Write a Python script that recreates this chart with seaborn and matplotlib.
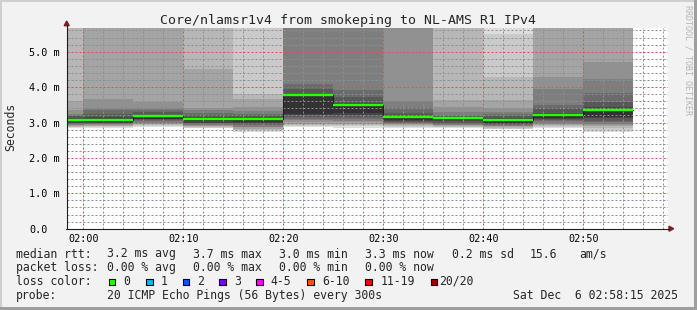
import numpy as np
import pandas as pd
import matplotlib
matplotlib.use("Agg")
import matplotlib.pyplot as plt
from matplotlib.patches import Rectangle, Polygon
from matplotlib.lines import Line2D
import seaborn as sns

# ---------------- data ----------------
# start of each 300 s interval, minutes after 02:00
interval_start = [-5, 0, 5, 10, 15, 20, 25, 30, 35, 40, 45, 50]
interval_len = 5
# 20 sorted ping rtts per interval (ms); 6.2 = beyond the top of the graph
pings = [
    [2.84, 2.86, 2.88, 2.90, 2.92, 2.94, 2.96, 2.98, 3.00, 3.03, 3.08, 3.13, 3.18, 3.22, 3.25, 3.35, 3.61, 6.2, 6.2, 6.2],
    [2.85, 2.87, 2.89, 2.91, 2.93, 2.95, 2.96, 2.98, 3.00, 3.02, 3.07, 3.15, 3.25, 3.36, 3.40, 3.67, 6.2, 6.2, 6.2, 6.2],
    [2.87, 2.90, 2.93, 2.95, 2.98, 3.00, 3.03, 3.06, 3.09, 3.11, 3.17, 3.22, 3.30, 3.36, 3.41, 3.58, 6.2, 6.2, 6.2, 6.2],
    [2.84, 2.85, 2.87, 2.89, 2.91, 2.93, 2.96, 2.98, 3.00, 3.03, 3.11, 3.15, 3.20, 3.28, 3.34, 3.41, 4.52, 6.2, 6.2, 6.2],
    [2.73, 2.78, 2.80, 2.83, 2.86, 2.88, 2.92, 2.95, 2.99, 3.02, 3.10, 3.15, 3.20, 3.25, 3.32, 3.44, 3.67, 3.81, 6.2, 6.2],
    [2.88, 2.91, 2.94, 2.97, 3.02, 3.06, 3.11, 3.16, 3.21, 3.25, 3.77, 3.80, 3.95, 4.10, 6.2, 6.2, 6.2, 6.2, 6.2, 6.2],
    [2.85, 2.89, 2.93, 2.97, 3.01, 3.05, 3.10, 3.15, 3.22, 3.28, 3.50, 3.56, 3.73, 3.92, 6.2, 6.2, 6.2, 6.2, 6.2, 6.2],
    [2.84, 2.87, 2.89, 2.92, 2.95, 2.98, 3.00, 3.02, 3.05, 3.08, 3.16, 3.20, 3.26, 3.40, 3.62, 6.2, 6.2, 6.2, 6.2, 6.2],
    [2.84, 2.86, 2.88, 2.90, 2.92, 2.94, 2.97, 3.00, 3.05, 3.07, 3.13, 3.15, 3.18, 3.22, 3.31, 3.45, 3.64, 6.2, 6.2, 6.2],
    [2.82, 2.83, 2.85, 2.87, 2.89, 2.91, 2.93, 2.95, 2.97, 3.00, 3.06, 3.12, 3.18, 3.25, 3.30, 3.40, 3.63, 4.29, 5.51, 6.2],
    [2.84, 2.87, 2.91, 2.94, 2.97, 3.00, 3.03, 3.07, 3.11, 3.13, 3.22, 3.28, 3.40, 3.49, 3.96, 4.29, 6.2, 6.2, 6.2, 6.2],
    [2.74, 2.79, 2.84, 2.89, 2.93, 2.97, 3.01, 3.05, 3.12, 3.16, 3.36, 3.44, 3.58, 3.82, 4.24, 4.72, 6.2, 6.2, 6.2, 6.2],
]
median = [3.08, 3.07, 3.17, 3.11, 3.10, 3.77, 3.50, 3.16, 3.13, 3.06, 3.22, 3.36]
loss = [0, 0, 0, 0, 0, 0, 0, 0, 0, 0, 0, 0]

x_major = [0, 10, 20, 30, 40, 50]
x_labels = ["02:00", "02:10", "02:20", "02:30", "02:40", "02:50"]
y_major = [0, 1, 2, 3, 4, 5]
y_labels = ["0.0", "1.0 m", "2.0 m", "3.0 m", "4.0 m", "5.0 m"]

loss_names = ["0", "1", "2", "3", "4-5", "6-10", "11-19", "20/20"]
loss_colors = ["#26ff00", "#00b8ff", "#0059ff", "#7e00ff", "#ff00ff", "#ff5500", "#ff0000", "#a10000"]

title = "Core/nlamsr1v4 from smokeping to NL-AMS R1 IPv4"
stats_rtt = ["3.2 ms avg", "3.7 ms max", "3.0 ms min", "3.3 ms now", "0.2 ms sd", "15.6", "am/s"]
stats_loss = ["0.00 % avg", "0.00 % max", "0.00 % min", "0.00 % now"]
probe = "20 ICMP Echo Pings (56 Bytes) every 300s"
stamp = "Sat Dec  6 02:58:15 2025"

# ---------------- style ----------------
W, H = 697, 310
sns.set_theme(style="white")
plt.rcParams["font.family"] = ["DejaVu Sans Mono", "DejaVu Sans"]
MONO = "DejaVu Sans Mono"

fig = plt.figure(figsize=(W / 100, H / 100), dpi=100, facecolor="#f2f2f2")


def fx(x):
    return x / W


def fy(y):
    return 1 - y / H


ax = fig.add_axes([fx(66.7), fy(228.7), (668 - 66.7) / W, (228.7 - 28) / H])
ax.set_facecolor("white")
ax.set_xlim(-1.66, 58.47)
ax.set_ylim(0, 5.67)
for s in ax.spines.values():
    s.set_visible(False)

# smoke
edges = interval_start + [interval_start[-1] + interval_len]
P = np.array(pings)
for k in range(1, 11):
    lo = P[:, k - 1]
    hi = P[:, 20 - k]
    g = (19 * (10 - k) + 50) / 255
    ax.fill_between(edges, np.append(lo, lo[-1]), np.append(hi, hi[-1]),
                    step="post", color=(g, g, g), lw=0, zorder=1)

# median
med_df = pd.DataFrame({"t": edges, "rtt": median + [median[-1]]})
sns.lineplot(data=med_df, x="t", y="rtt", drawstyle="steps-post", color="#202020",
             lw=0.75, ax=ax, zorder=3, legend=False)
ends = [s + interval_len for s in interval_start]
ax.hlines(median, interval_start, ends, colors=[loss_colors[l] for l in loss],
          lw=1.7, zorder=4)

# ticks and grid
ax.set_xticks(x_major)
ax.set_xticklabels(x_labels)
ax.set_xticks([t for t in range(0, 59, 2) if t % 10], minor=True)
ax.set_yticks(y_major)
ax.set_yticklabels(y_labels)
ax.set_yticks([v / 5 for v in range(1, 29) if v % 5], minor=True)
ax.set_axisbelow(False)
ax.grid(which="major", color=(0.87, 0.31, 0.31, 0.26), linestyle=(0, (2, 2)), lw=0.72, zorder=2.5)
ax.grid(which="minor", color=(0.56, 0.56, 0.56, 0.22), linestyle=(0, (2, 2)), lw=0.72, zorder=2.5)
ax.tick_params(which="major", length=2.9, width=0.72, color="#1f1f1f", direction="out",
               labelsize=7.3, labelcolor="black")
ax.tick_params(which="minor", length=1.5, width=0.72, color="#1f1f1f", direction="out")
ax.tick_params(axis="x", which="major", pad=1.0)
ax.tick_params(axis="y", which="major", pad=24.0)
for t in ax.get_yticklabels():
    t.set_ha("left")
    t.set_family(MONO)
for t in ax.get_xticklabels():
    t.set_family(MONO)
ax.set_xlabel("")
ax.set_ylabel("")

# axis lines with arrows
axc = "#1f1f1f"
arrc = "#801f1f"
fig.add_artist(Line2D([fx(66.7), fx(66.7)], [fy(228.7), fy(25)], color=axc, lw=0.8))
fig.add_artist(Line2D([fx(66.2), fx(669)], [fy(228.7), fy(228.7)], color=axc, lw=0.8))
fig.add_artist(Polygon([[fx(64.2), fy(25.7)], [fx(69.2), fy(25.7)], [fx(66.7), fy(21.0)]],
                       closed=True, color=arrc, transform=fig.transFigure))
fig.add_artist(Polygon([[fx(669), fy(226.2)], [fx(669), fy(231.2)], [fx(673.7), fy(228.7)]],
                       closed=True, color=arrc, transform=fig.transFigure))

# titles
fig.text(fx(348), fy(24), title, ha="center", va="baseline", size=9.5, family=MONO)
fig.text(fx(11), fy(127), "Seconds", rotation=90, ha="center", va="center", size=8.3, family=MONO)
fig.text(fx(687.7), fy(60), "RRDTOOL / TOBI OETIKER", rotation=270, ha="center", va="center",
         size=6, family=MONO, color="#b4b4b4")

# legend rows
FS = 8.3
rows = [257.5, 271.2, 285.0, 298.7]
fig.text(fx(16), fy(rows[0]), "median rtt:", ha="left", va="baseline", size=FS, family=MONO)
for x, s in zip([107.3, 193.3, 279.3, 365.3, 451.7, 530, 579.3], stats_rtt):
    fig.text(fx(x), fy(rows[0]), s, ha="left", va="baseline", size=FS, family=MONO)
fig.text(fx(16), fy(rows[1]), "packet loss:", ha="left", va="baseline", size=FS, family=MONO)
for x, s in zip([107.3, 193.3, 279.3, 365.3], stats_loss):
    fig.text(fx(x), fy(rows[1]), s, ha="left", va="baseline", size=FS, family=MONO)
fig.text(fx(16), fy(rows[2]), "loss color:", ha="left", va="baseline", size=FS, family=MONO)
box_x = [108.7, 146, 182.7, 219.3, 256, 307.3, 365.3, 430.7]
lab_x = [123.3, 160.7, 197.3, 234, 270.7, 322, 380.7, 439.3]
for bx, lx, name, col in zip(box_x, lab_x, loss_names, loss_colors):
    fig.add_artist(Rectangle((fx(bx), fy(rows[2])), 6.5 / W, 6.5 / H, transform=fig.transFigure,
                             facecolor=col, edgecolor="black", lw=0.8))
    fig.text(fx(lx), fy(rows[2]), name, ha="left", va="baseline", size=FS, family=MONO)
fig.text(fx(16), fy(rows[3]), "probe:", ha="left", va="baseline", size=FS, family=MONO)
fig.text(fx(107.3), fy(rows[3]), probe, ha="left", va="baseline", size=FS, family=MONO)
fig.text(fx(513.3), fy(rows[3]), stamp, ha="left", va="baseline", size=FS, family=MONO)

# 3d border
fig.add_artist(Rectangle((0, fy(2)), 1, 2 / H, transform=fig.transFigure, color="#cfcfcf", lw=0))
fig.add_artist(Rectangle((0, 0), 2 / W, 1, transform=fig.transFigure, color="#cfcfcf", lw=0))
fig.add_artist(Rectangle((0, 0), 1, 3 / H, transform=fig.transFigure, color="#9e9e9e", lw=0))
fig.add_artist(Rectangle((fx(694), 0), 3 / W, 1, transform=fig.transFigure, color="#9e9e9e", lw=0))

fig.savefig("out.png", dpi=100, facecolor=fig.get_facecolor())
